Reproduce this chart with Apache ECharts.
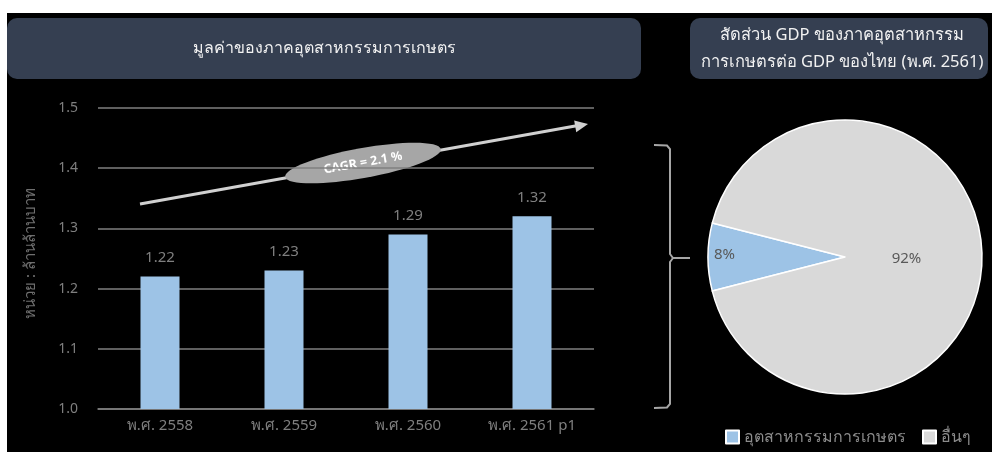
<!DOCTYPE html>
<html><head><meta charset="utf-8">
<script src="https://cdn.jsdelivr.net/npm/echarts@6/dist/echarts.min.js"></script>
<style>html,body{margin:0;padding:0;background:#fff}#c{width:992px;height:452px}</style>
</head><body><div id="c"></div>
<script>
const categories = ['พ.ศ. 2558', 'พ.ศ. 2559', 'พ.ศ. 2560', 'พ.ศ. 2561 p1'];
const values = [1.22, 1.23, 1.29, 1.32];
const pieNames = ['อุตสาหกรรมการเกษตร', 'อื่นๆ'];
const pieValues = [8, 92];
const barTitle = 'มูลค่าของภาคอุตสาหกรรมการเกษตร';
const pieTitle = 'สัดส่วน GDP ของภาคอุตสาหกรรม\nการเกษตรต่อ GDP ของไทย (พ.ศ. 2561)';
const yName = 'หน่วย : ล้านล้านบาท';
const cagrText = 'CAGR = 2.1 %';

const FONT = "'Noto Sans', 'DejaVu Sans', sans-serif";
const GRAY = '#7f7f7f';
const chart = echarts.init(document.getElementById('c'));
const ang = Math.atan2(204 - 124, 587 - 140);
chart.setOption({
  backgroundColor: '#000',
  textStyle: { fontFamily: FONT },
  animation: false,
  grid: { left: 98, right: 398, top: 108, bottom: 43 },
  xAxis: {
    type: 'category', data: categories,
    axisLine: { lineStyle: { color: GRAY, width: 1.5 } },
    axisTick: { show: false },
    axisLabel: { color: GRAY, fontSize: 15, margin: 9, fontFamily: FONT }
  },
  yAxis: {
    type: 'value', min: 1.0, max: 1.5, interval: 0.1,
    name: yName, nameLocation: 'middle', nameGap: 60, nameRotate: 90,
    nameTextStyle: { color: '#6f6f6f', fontSize: 15, fontFamily: FONT, padding: [0, 0, 0, 10] },
    axisLine: { show: false }, axisTick: { show: false },
    axisLabel: { color: GRAY, fontSize: 14, margin: 20, formatter: v => v.toFixed(1) },
    splitLine: { lineStyle: { color: GRAY, width: 1.5 } }
  },
  legend: {
    data: pieNames, right: 16, top: 424, itemWidth: 13, itemHeight: 13, itemGap: 16,
    icon: 'rect',
    textStyle: { color: '#8c8c8c', fontSize: 16, fontFamily: FONT }
  },
  series: [
    {
      type: 'bar', data: values, barWidth: 39,
      itemStyle: { color: '#9dc3e6' },
      label: { show: true, position: 'top', distance: 11, color: GRAY, fontSize: 15,
               formatter: p => p.value.toFixed(2) }
    },
    {
      type: 'pie', center: [845, 257], radius: 137, startAngle: 194.4, clockwise: true,
      data: pieNames.map((n, i) => ({ name: n, value: pieValues[i],
        label: i === 0 ? { offset: [-49, -2] } : { offset: [-10, 2] } })),
      color: ['#9dc3e6', '#d9d9d9'],
      itemStyle: { borderColor: '#fff', borderWidth: 1.5 },
      label: { show: true, position: 'inside', color: '#595959', fontSize: 15,
               formatter: p => p.value + '%' },
      labelLine: { show: false },
      emphasis: { disabled: true }
    }
  ],
  graphic: [
    { type: 'rect', shape: { x: 0, y: 0, width: 992, height: 13 }, style: { fill: '#fff' } },
    { type: 'rect', shape: { x: 0, y: 0, width: 7, height: 452 }, style: { fill: '#fff' } },
    { type: 'rect', shape: { x: 7, y: 18, width: 634, height: 61, r: 10 }, style: { fill: '#353f51' } },
    { type: 'text', x: 324, y: 48, style: { text: barTitle, fill: '#f2f2f2', font: '16px ' + FONT, align: 'center', verticalAlign: 'middle' } },
    { type: 'rect', shape: { x: 690, y: 18, width: 298, height: 61, r: 10 }, style: { fill: '#353f51' } },
    { type: 'text', x: 842, y: 49, style: { text: pieTitle, fill: '#f2f2f2', font: '16.5px ' + FONT, align: 'center', verticalAlign: 'middle', lineHeight: 27 } },
    // CAGR arrow
    { type: 'line', shape: { x1: 140, y1: 204, x2: 578, y2: 125.6 }, style: { stroke: '#d0d0d0', lineWidth: 3 } },
    { type: 'polygon', x: 588, y: 124, rotation: ang,
      shape: { points: [[0, 0], [-13, -6], [-13, 6]] }, style: { fill: '#d0d0d0' } },
    { type: 'group', x: 363, y: 163, rotation: ang, children: [
      { type: 'ellipse', shape: { cx: 0, cy: 0, rx: 79, ry: 15 }, style: { fill: '#a6a6a6' } },
      { type: 'text', x: 0, y: 0, style: { text: cagrText, fill: '#fff', font: 'bold 12.5px ' + FONT, align: 'center', verticalAlign: 'middle' } }
    ]},
    // bracket
    { type: 'polyline', shape: { points: [[654, 145], [667, 145.5], [670, 149], [670, 254], [673, 258], [690, 258]] }, style: { stroke: '#a6a6a6', lineWidth: 2, fill: null } },
    { type: 'polyline', shape: { points: [[673, 258], [670, 262], [670, 404], [667, 407.5], [654, 408]] }, style: { stroke: '#a6a6a6', lineWidth: 2, fill: null } }
  ]
});
</script></body></html>
